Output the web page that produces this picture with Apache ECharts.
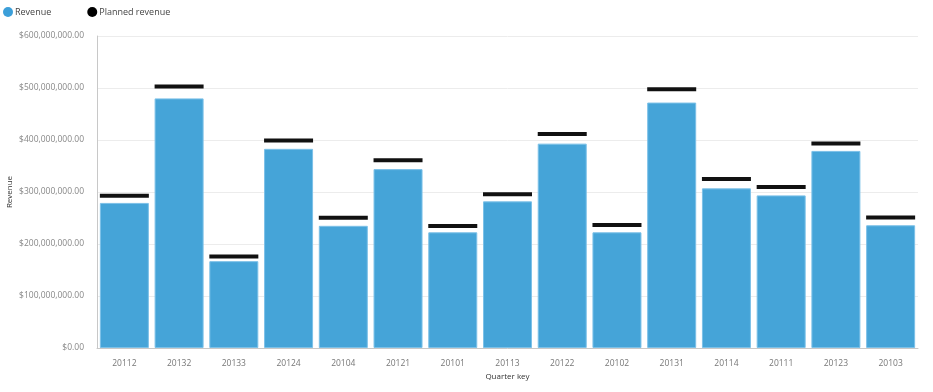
<!DOCTYPE html>
<html>
<head>
<meta charset="utf-8">
<script src="https://cdn.jsdelivr.net/npm/echarts@6/dist/echarts.min.js"></script>
<style>html,body{margin:0;padding:0;background:#fff}#c{width:933px;height:392px}</style>
</head>
<body>
<div id="c"></div>
<script>
var categories = ['20112','20132','20133','20124','20104','20121','20101','20113','20122','20102','20131','20114','20111','20123','20103'];
var revenue = [279e6,480e6,167e6,383e6,235e6,344e6,222.5e6,282e6,393e6,222.5e6,472e6,307e6,293.5e6,379e6,236e6];
var plannedRevenue = [293e6,503e6,176e6,399e6,250.5e6,361e6,234.5e6,295.5e6,411.5e6,236.5e6,497.5e6,325e6,309.5e6,393.5e6,251e6];
var yTicks = [0,100e6,200e6,300e6,400e6,500e6,600e6];

function money(v){
  var s = Math.round(v).toString().replace(/\B(?=(\d{3})+(?!\d))/g, ',');
  return '$' + s + '.00';
}
var font = 'Open Sans';
var chart = echarts.init(document.getElementById('c'));
chart.setOption({
  animation:false,
  textStyle:{fontFamily:font},
  legend:{
    left:-2, top:2, itemWidth:10, itemHeight:10, itemGap:36,
    icon:'circle',
    textStyle:{fontSize:9, color:'#444', fontFamily:font, padding:[0,0,0,-3]},
    data:[{name:'Revenue', itemStyle:{color:'#3c9fd9', borderWidth:0}},{name:'Planned revenue', itemStyle:{color:'#000', borderWidth:0}}]
  },
  grid:{left:97, right:15, top:36, bottom:44, containLabel:false, outerBoundsMode:'none'},
  xAxis:{
    type:'category', data:categories,
    name:'Quarter key', nameLocation:'middle', nameGap:25, nameMoveOverlap:false,
    nameTextStyle:{fontSize:8, color:'#333', fontFamily:font},
    axisLine:{lineStyle:{color:'#c8c8c8'}},
    axisTick:{show:false},
    axisLabel:{fontSize:8.5, color:'#777', margin:11, fontFamily:font}
  },
  yAxis:{
    type:'value', min:yTicks[0], max:yTicks[yTicks.length-1], interval:100e6,
    name:'Revenue', nameLocation:'middle', nameGap:83, nameRotate:90, nameMoveOverlap:false,
    nameTextStyle:{fontSize:8, color:'#333', fontFamily:font},
    axisLine:{show:true, lineStyle:{color:'#c8c8c8'}},
    axisTick:{show:false},
    splitLine:{lineStyle:{color:'#ececec'}},
    axisLabel:{fontSize:8.5, color:'#888', margin:13, fontFamily:font, formatter:money}
  },
  series:[
    {name:'Revenue', type:'bar', data:revenue, barWidth:49,
     itemStyle:{color:'#45a4d8', borderColor:'#7cc1e8', borderWidth:1}},
    {name:'Planned revenue', type:'scatter', data:plannedRevenue, symbol:'rect', symbolSize:[49,4],
     itemStyle:{color:'#111', borderWidth:0, opacity:1}, z:5}
  ]
});
</script>
</body>
</html>
